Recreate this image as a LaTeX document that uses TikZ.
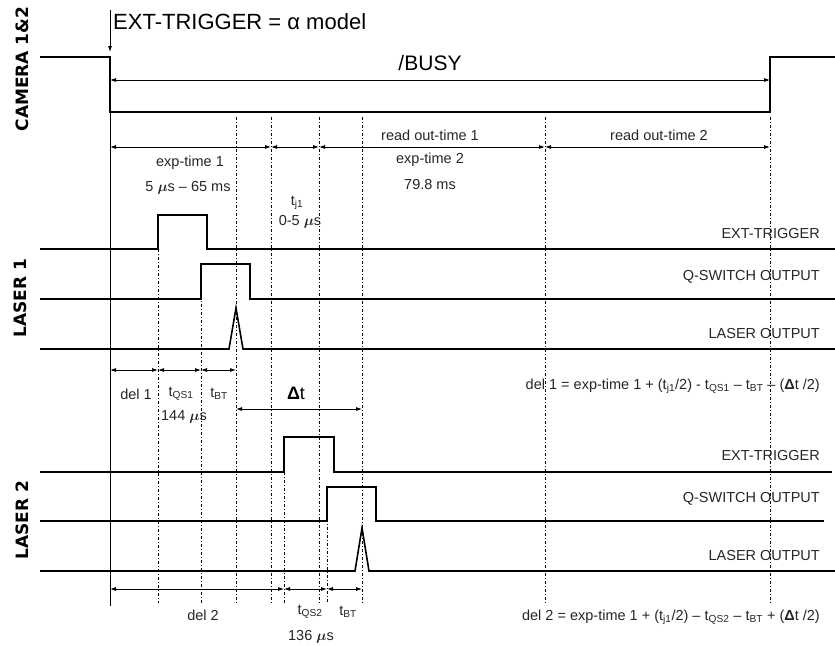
\documentclass[tikz,border=0pt]{standalone}
\usepackage{fontspec}
\usepackage{bm}
\setmainfont{Liberation Sans}
\newfontfamily\sidefont{DejaVu Sans}
\usetikzlibrary{arrows.meta,calc}

\tikzset{
	sig/.style={line width=1.6pt, line join=miter},
	dim/.style={line width=0.8pt, {Latex[length=6pt,width=4pt]}-{Latex[length=6pt,width=4pt]}},
	guide/.style={line width=0.5pt, dash pattern=on 3pt off 2pt on 1pt off 2pt},
	lbl/.style={font=\fontsize{14.5}{16}\selectfont, text=black!85, inner sep=0pt},
	side/.style={font=\sidefont\bfseries\fontsize{17}{19}\selectfont, rotate=90, inner sep=0pt}
}
\newcommand{\us}{$\bm{\mu}$s}

\begin{document}
\begin{tikzpicture}[x=1pt,y=-1pt]
	\useasboundingbox (0,0) rectangle (835,645);
	% time marks
	\coordinate (T0) at (110,0);
	\coordinate (Ta) at (158,0);
	\coordinate (Tb) at (201,0);
	\coordinate (Tc) at (236,0);
	\coordinate (Td) at (271,0);
	\coordinate (Te) at (284,0);
	\coordinate (Tf) at (319,0);
	\coordinate (Tg) at (327,0);
	\coordinate (Th) at (362,0);
	\coordinate (Ti) at (545,0);
	\coordinate (Tj) at (770,0);
	% rows
	\coordinate (Rtop) at (0,10);
	\coordinate (Rtrig) at (0,52);
	\coordinate (Rlow) at (0,112);
	\coordinate (Rguide) at (0,117);
	\coordinate (Rbusy) at (0,80);
	\coordinate (Rexp) at (0,147);
	\coordinate (Rq1) at (0,249);
	\coordinate (Rb1) at (0,264);
	\coordinate (Rdel1) at (0,370);
	\coordinate (Rdt) at (0,409);
	\coordinate (Re2) at (0,472);
	\coordinate (Rg2) at (0,487);
	\coordinate (Rdel2) at (0,589);
	\coordinate (Rend) at (0,603);
	\coordinate (Rbase) at (0,606);

	% camera 1&2
	\draw[sig] (40,57) -- (110,57) -- (110,112) -- (770,112) -- (770,57) -- (835,57);
	\draw[line width=0.8pt, -{Latex[length=6pt,width=4pt]}] (T0|-Rtop) -- (T0|-Rtrig);
	\draw[line width=0.8pt] (T0|-Rlow) -- (T0|-Rbase);
	\draw[dim] (T0|-Rbusy) -- (Tj|-Rbusy);

	% guide lines
	\foreach \t in {Tc,Td,Tf,Th,Ti,Tj}
		\draw[guide] (\t|-Rguide) -- (\t|-Rend);
	\draw[guide] (Ta|-Rq1) -- (Ta|-Rend);
	\draw[guide] (Tb|-Rb1) -- (Tb|-Rend);
	\draw[guide] (Te|-Re2) -- (Te|-Rend);
	\draw[guide] (Tg|-Rg2) -- (Tg|-Rend);

	% laser 1
	\draw[sig] (40,249) -- (158,249) -- (158,215) -- (207,215) -- (207,249) -- (835,249);
	\draw[sig] (40,299) -- (201,299) -- (201,264) -- (250,264) -- (250,299) -- (835,299);
	\draw[sig] (40,349) -- (229,349) -- (236,308) -- (243,349) -- (835,349);

	% laser 2
	\draw[sig] (40,472) -- (284,472) -- (284,437) -- (334,437) -- (334,472) -- (832,472);
	\draw[sig] (40,521) -- (327,521) -- (327,487) -- (376,487) -- (376,521) -- (824,521);
	\draw[sig] (40,571) -- (355,571) -- (362,528) -- (369,571) -- (835,571);

	% durations
	\draw[dim] (T0|-Rexp) -- (Td|-Rexp);
	\draw[dim] (Td|-Rexp) -- (Tf|-Rexp);
	\draw[dim] (Tf|-Rexp) -- (Ti|-Rexp);
	\draw[dim] (Ti|-Rexp) -- (Tj|-Rexp);
	\draw[dim] (T0|-Rdel1) -- (Ta|-Rdel1);
	\draw[dim] (Ta|-Rdel1) -- (Tb|-Rdel1);
	\draw[dim] (Tb|-Rdel1) -- (Tc|-Rdel1);
	\draw[dim] (Tc|-Rdt) -- (Th|-Rdt);
	\draw[dim] (T0|-Rdel2) -- (Te|-Rdel2);
	\draw[dim] (Te|-Rdel2) -- (Tg|-Rdel2);
	\draw[dim] (Tg|-Rdel2) -- (Th|-Rdel2);

	% labels
	\node[lbl, anchor=west, font=\fontsize{22}{24}\selectfont, text=black] (title) at (113,22) {EXT-TRIGGER = α model};
	\node[lbl, font=\fontsize{21}{23}\selectfont, text=black] (busy) at (430,63) {/BUSY};
	\node[side] (cam) at (22,69) {CAMERA 1\&2};
	\node[side] (las1) at (20,298) {LASER 1};
	\node[side] (las2) at (22,520) {LASER 2};

	\node[lbl] (exp1) at (190,163) {exp-time 1};
	\node[lbl] (exp1v) at (188,188) {5 \us{} – 65 ms};
	\node[lbl] (tj) at (297,203) {t\textsubscript{j1}};
	\node[lbl] (tjv) at (300,222) {0-5 \us};
	\node[lbl] (ro1) at (430,135) {read out-time 1};
	\node[lbl] (exp2) at (430,160) {exp-time 2};
	\node[lbl] (exp2v) at (430,185) {79.8 ms};
	\node[lbl] (ro2) at (659,135) {read out-time 2};

	\node[lbl, anchor=east] (ext1) at (820,234) {EXT-TRIGGER};
	\node[lbl, anchor=east] (qs1) at (820,277) {Q-SWITCH OUTPUT};
	\node[lbl, anchor=east] (out1) at (820,334) {LASER OUTPUT};
	\node[lbl, anchor=east] (eq1) at (820,386) {del 1 = exp-time 1 + (t\textsubscript{j1}/2) - t\textsubscript{QS1} – t\textsubscript{BT} – ({\bfseries Δ}t /2)};

	\node[lbl] (d1) at (136,394) {del 1};
	\node[lbl] (tqs1) at (181,394) {t\textsubscript{QS1}};
	\node[lbl] (tbt1) at (219,394) {t\textsubscript{BT}};
	\node[lbl] (tqs1v) at (184,417) {144 \us};
	\node[lbl, font=\fontsize{18}{20}\selectfont, text=black] (dt) at (296,393) {{\bfseries Δ}t};

	\node[lbl, anchor=east] (ext2) at (820,456) {EXT-TRIGGER};
	\node[lbl, anchor=east] (qs2) at (820,499) {Q-SWITCH OUTPUT};
	\node[lbl, anchor=east] (out2) at (820,556) {LASER OUTPUT};
	\node[lbl, anchor=east] (eq2) at (820,617) {del 2 = exp-time 1 + (t\textsubscript{j1}/2) – t\textsubscript{QS2} – t\textsubscript{BT} + ({\bfseries Δ}t /2)};

	\node[lbl] (d2) at (203,615) {del 2};
	\node[lbl] (tqs2) at (310,612) {t\textsubscript{QS2}};
	\node[lbl] (tbt2) at (348,612) {t\textsubscript{BT}};
	\node[lbl] (tqs2v) at (311,637) {136 \us};
\end{tikzpicture}
\end{document}
